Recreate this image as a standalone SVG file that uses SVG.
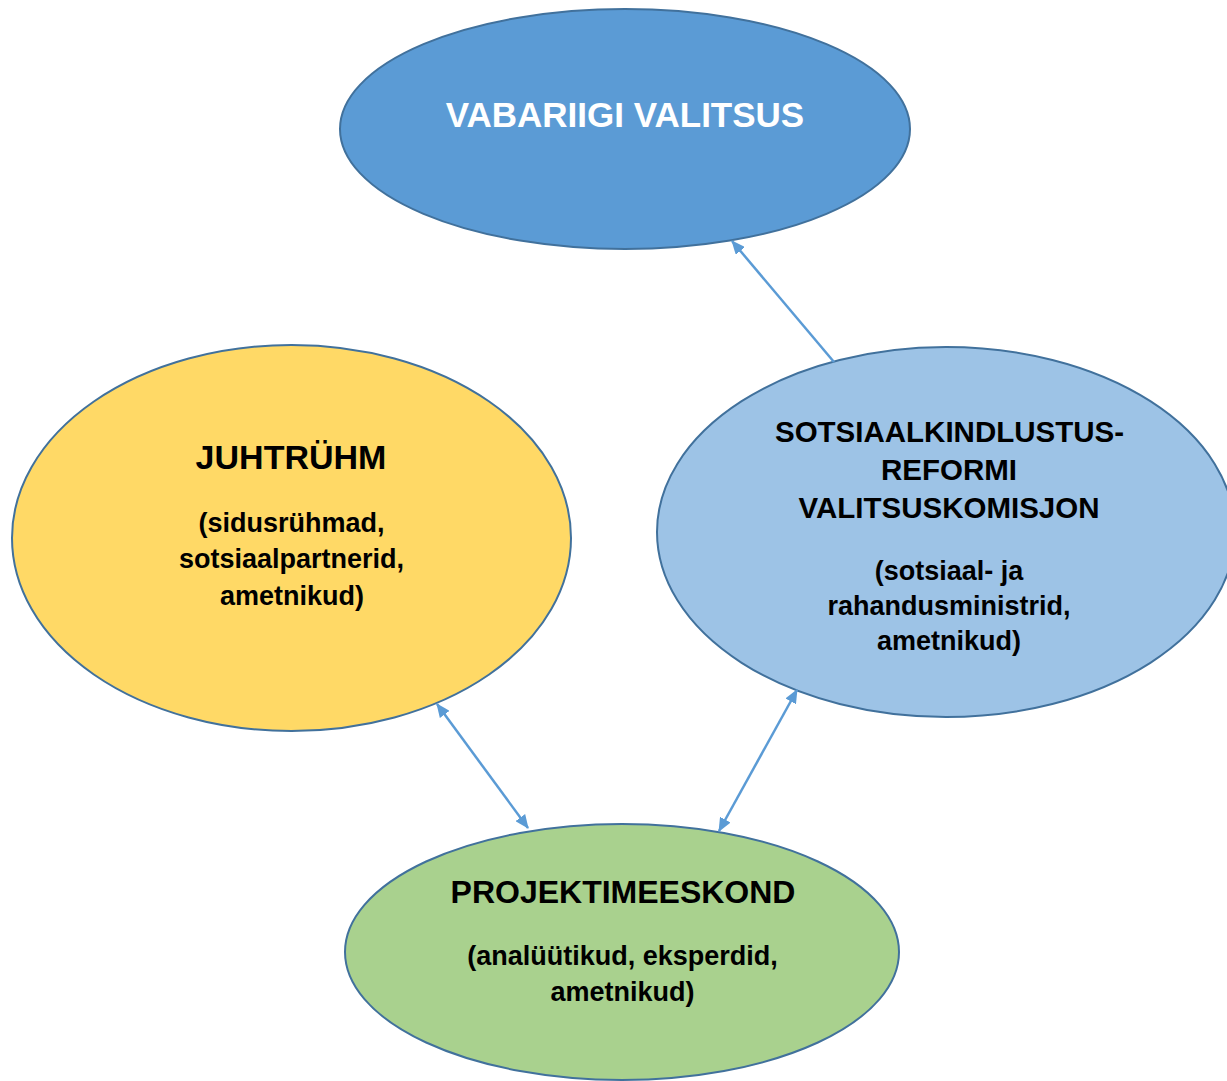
<svg xmlns="http://www.w3.org/2000/svg" width="1227" height="1081" viewBox="0 0 1227 1081">
<style>
.n{stroke:#41719C;stroke-width:2}
.t{font-family:"Liberation Sans",Arial,sans-serif;font-weight:bold;text-anchor:middle;fill:#000}
.w{fill:#fff}
.s{font-size:27px}
.c{stroke:#5B9BD5;stroke-width:2.5;fill:none}
</style>
<defs>
<marker id="a" viewBox="0 0 14 12" refX="13" refY="6" markerWidth="14" markerHeight="12" markerUnits="userSpaceOnUse" orient="auto-start-reverse">
<path d="M0,0L14,6L0,12z" fill="#5B9BD5"/>
</marker>
</defs>
<rect width="1227" height="1081" fill="#fff"/>
<g id="vabariigi">
<ellipse class="n" cx="625" cy="129" rx="285" ry="120" fill="#5B9BD5"/>
<text class="t w" x="625" y="127" font-size="35">VABARIIGI VALITSUS</text>
</g>
<g id="juhtryhm">
<ellipse class="n" cx="291.5" cy="538" rx="279.5" ry="193" fill="#FFD966"/>
<text class="t" x="291" y="469" font-size="34">JUHTRÜHM</text>
<text class="t s" x="291.5" y="532">(sidusrühmad,</text>
<text class="t s" x="291.5" y="568">sotsiaalpartnerid,</text>
<text class="t s" x="292" y="605">ametnikud)</text>
</g>
<g id="komisjon">
<ellipse class="n" cx="946" cy="532" rx="289" ry="185" fill="#9DC3E6"/>
<text class="t" x="949.5" y="442" font-size="29.5">SOTSIAALKINDLUSTUS-</text>
<text class="t" x="949" y="480" font-size="29.5">REFORMI</text>
<text class="t" x="949" y="518" font-size="29.5">VALITSUSKOMISJON</text>
<text class="t s" x="949" y="580">(sotsiaal- ja</text>
<text class="t s" x="949" y="615">rahandusministrid,</text>
<text class="t s" x="949" y="650">ametnikud)</text>
</g>
<g id="projekt">
<ellipse class="n" cx="622" cy="952" rx="277" ry="128" fill="#A9D18E"/>
<text class="t" x="623" y="903" font-size="32">PROJEKTIMEESKOND</text>
<text class="t s" x="622.5" y="965">(analüütikud, eksperdid,</text>
<text class="t s" x="622.5" y="1001">ametnikud)</text>
</g>
<g id="connectors">
<line class="c" x1="834" y1="362" x2="732" y2="241" marker-end="url(#a)"/>
<line class="c" x1="437" y1="704" x2="528" y2="828" marker-start="url(#a)" marker-end="url(#a)"/>
<line class="c" x1="797" y1="690" x2="719" y2="831" marker-start="url(#a)" marker-end="url(#a)"/>
</g>
</svg>
